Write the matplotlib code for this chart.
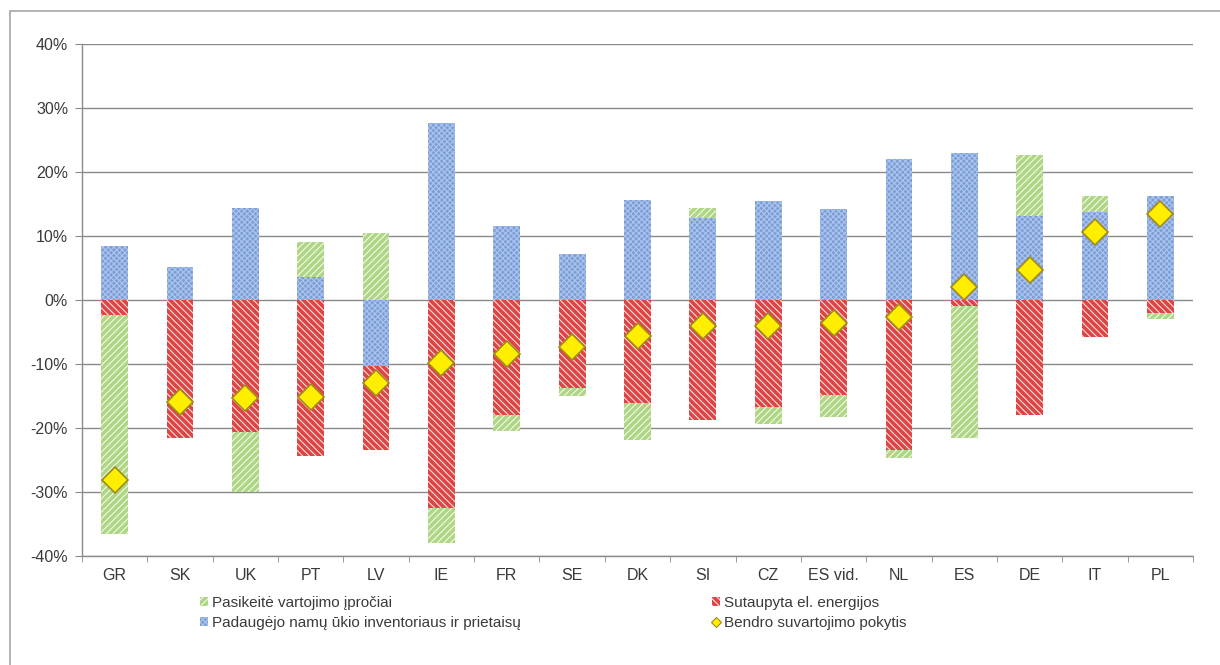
import matplotlib
matplotlib.use("Agg")
import matplotlib.pyplot as plt
import numpy as np
from matplotlib.patches import Rectangle
from matplotlib.lines import Line2D
from matplotlib.ticker import FuncFormatter, FixedLocator

plt.rcParams['font.family'] = ['Liberation Sans', 'DejaVu Sans']
plt.rcParams['hatch.linewidth'] = 0.8

# Countries
countries = ["GR", "SK", "UK", "PT", "LV", "IE", "FR", "SE", "DK", "SI", "CZ",
             "ES vid.", "NL", "ES", "DE", "IT", "PL"]

# Contributions to the change in household electricity use, %
appliances = [8.4, 5.2, 14.3, 3.6, -10.3, 27.7, 11.6, 7.2, 15.7, 12.8, 15.4,
              14.2, 22.0, 23.0, 13.1, 13.8, 16.3]
savings = [-2.3, -21.6, -20.6, -24.4, -13.2, -32.5, -18.0, -13.8, -16.1, -18.7,
           -16.7, -14.8, -23.5, -1.0, -18.0, -5.8, -2.1]
habits = [-34.2, 0.0, -9.4, 5.5, 10.4, -5.5, -2.5, -1.2, -5.7, 1.5, -2.7,
          -3.5, -1.2, -20.5, 9.6, 2.5, -0.8]
total = [-28.1, -15.9, -15.3, -15.1, -13.0, -9.9, -8.4, -7.3, -5.6, -4.0, -4.0,
         -3.6, -2.6, 2.0, 4.7, 10.7, 13.5]

lbl_habits = "Pasikeitė vartojimo įpročiai"
lbl_savings = "Sutaupyta el. energijos"
lbl_appl = "Padaugėjo namų ūkio inventoriaus ir prietaisų"
lbl_total = "Bendro suvartojimo pokytis"

yticks = [40, 30, 20, 10, 0, -10, -20, -30, -40]

# Styles: face colour, hatch, hatch (edge) colour
styles = {
    "appl": dict(facecolor="#7a9fd8", hatch="xxxxxx", edgecolor="#aec4ec"),
    "savings": dict(facecolor="#de4444", hatch="\\\\\\\\\\", edgecolor="#fbe0e0"),
    "habits": dict(facecolor="#aed684", hatch="/////", edgecolor="#f2f9ea"),
}
text_color = "#3a3a3a"

fig = plt.figure(figsize=(12.2, 6.65), dpi=100)
ax = fig.add_axes([82 / 1220, 1 - 556 / 665, (1193 - 82) / 1220, (556 - 44) / 665])

x = np.arange(len(countries))
width = 0.41
pos_base = np.zeros(len(countries))
neg_base = np.zeros(len(countries))
for key, series in (("appl", appliances), ("savings", savings), ("habits", habits)):
    vals = np.array(series, dtype=float)
    bottoms = np.where(vals >= 0, pos_base, neg_base)
    ax.bar(x, vals, width, bottom=bottoms, linewidth=0, zorder=2, **styles[key])
    pos_base = pos_base + np.where(vals >= 0, vals, 0)
    neg_base = neg_base + np.where(vals < 0, vals, 0)

ax.plot(x, total, linestyle="none", marker="D", markersize=13,
        markerfacecolor="#ffee00", markeredgecolor="#a08a20",
        markeredgewidth=1.2, zorder=4)

ax.set_ylim(-40, 40)
ax.set_xlim(-0.5, len(countries) - 0.5)
ax.yaxis.set_major_locator(FixedLocator(yticks))
ax.yaxis.set_major_formatter(FuncFormatter(lambda v, p: f"{v:.0f}%"))
ax.grid(axis="y", color="#8a8a8a", linewidth=1.0, zorder=1)
ax.set_axisbelow(True)

ax.set_xticks(x)
ax.set_xticklabels(countries)
ax.set_xticks(np.arange(-0.5, len(countries)), minor=True)
ax.tick_params(axis="x", which="major", length=0, pad=9, labelsize=11.5,
               labelcolor=text_color)
ax.tick_params(axis="x", which="minor", length=4, direction="out", color="#8a8a8a")
ax.tick_params(axis="y", length=5, direction="out", color="#8a8a8a", pad=5,
               labelsize=11.5, labelcolor=text_color)

for side in ("top", "right"):
    ax.spines[side].set_visible(False)
for side in ("left", "bottom"):
    ax.spines[side].set_color("#8a8a8a")
    ax.spines[side].set_linewidth(1.0)

# Chart frame, running past the right and bottom edges
fig.patches.append(Rectangle((10 / 1220, -0.2), 1.3, 1.2 - 10.5 / 665,
                             transform=fig.transFigure, fill=False,
                             edgecolor="#a6a6a6", linewidth=1.2))

def patch(key):
    return Rectangle((0, 0), 1, 1, linewidth=0, **styles[key])

diamond = Line2D([], [], linestyle="none", marker="D", markersize=5.5,
                 markerfacecolor="#ffee00", markeredgecolor="#a08a20",
                 markeredgewidth=0.8)

common = dict(frameon=False, fontsize=11, handlelength=0.5, handleheight=0.5,
              handletextpad=0.3, labelspacing=0.4, borderaxespad=0,
              borderpad=0, labelcolor=text_color)
leg1 = fig.legend([patch("habits"), patch("appl")], [lbl_habits, lbl_appl],
                  loc="upper left", bbox_to_anchor=(200 / 1220, 1 - 596 / 665),
                  **common)
leg2 = fig.legend([patch("savings"), diamond], [lbl_savings, lbl_total],
                  loc="upper left", bbox_to_anchor=(712 / 1220, 1 - 596 / 665),
                  **common)

fig.savefig("out.png", dpi=100)
